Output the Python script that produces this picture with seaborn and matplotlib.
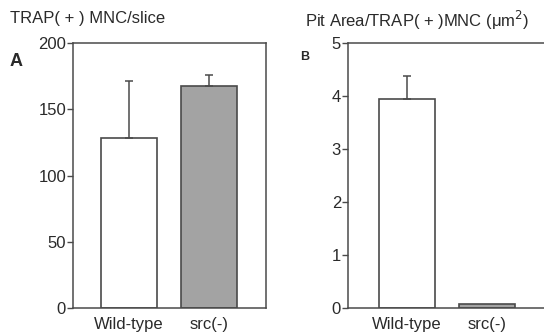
import numpy as np
import pandas as pd
import seaborn as sns
from matplotlib import pyplot as plt

genotypes = ['Wild-type', 'src(-)']
mnc_per_slice = [128, 167.5]
mnc_err = [43, 8.5]
pit_area = [3.94, 0.07]
pit_err = [0.44, 0.0]
bar_colors = ['white', '#a3a3a3']

sns.set_style('white')
plt.rcParams['font.family'] = ['Liberation Sans', 'DejaVu Sans']
ink = '#4a4a4a'
txt = '#2a2a2a'

fig = plt.figure(figsize=(5.44, 3.32), dpi=100)
ax_a = fig.add_axes([73/544, 24/332, 193/544, 265/332])
ax_b = fig.add_axes([348/544, 24/332, 200/544, 265/332])


def draw_panel(ax, values, errs, ymax, yticks, xlim):
    df = pd.DataFrame({'genotype': genotypes, 'value': values})
    sns.barplot(data=df, x='genotype', y='value', hue='genotype', palette=bar_colors,
                width=0.7, edgecolor=ink, linewidth=1.2, errorbar=None, legend=False, ax=ax)
    for i, (v, e) in enumerate(zip(values, errs)):
        if e > 0:
            ax.errorbar(i, v, yerr=[[0], [e]], color=ink, lw=1.1, capsize=3, capthick=1.1)
    ax.set_ylim(0, ymax)
    ax.set_xlim(*xlim)
    ax.set_yticks(yticks)
    ax.set_xlabel('')
    ax.set_ylabel('')
    for s in ax.spines.values():
        s.set_color(ink)
        s.set_linewidth(1.1)
    ax.tick_params(axis='y', left=True, length=4, width=1, color=ink, labelsize=12,
                   labelcolor=txt, pad=1)
    ax.tick_params(axis='x', bottom=False, labelsize=12, labelcolor=txt, pad=3)


draw_panel(ax_a, mnc_per_slice, mnc_err, 200, [0, 50, 100, 150, 200], (-0.7, 1.7125))
draw_panel(ax_b, pit_area, pit_err, 5, [0, 1, 2, 3, 4, 5], (-0.74, 1.76))

fig.text(10/544, 1 - 18/332, 'TRAP( + ) MNC/slice', fontsize=12, color=txt, va='center')
fig.text(10/544, 1 - 62/332, 'A', fontsize=13, fontweight='bold', color=txt, va='center')
fig.text(305/544, 1 - 20/332, 'Pit Area/TRAP( + )MNC (μm$^2$)', fontsize=12, color=txt,
         va='center')
fig.text(300/544, 1 - 57/332, 'B', fontsize=9, fontweight='bold', color=txt, va='center')

fig.savefig('out.png', dpi=100)
